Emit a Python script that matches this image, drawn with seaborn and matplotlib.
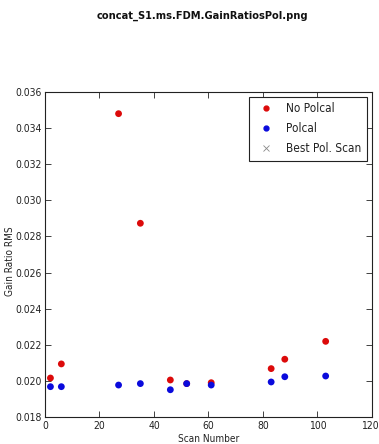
import matplotlib
matplotlib.use("Agg")
import matplotlib.pyplot as plt
import matplotlib.transforms as mtransforms
from matplotlib.lines import Line2D
import seaborn as sns
import pandas as pd

scans = [2, 6, 27, 35, 46, 52, 61, 83, 88, 103]
no_polcal = [0.02016, 0.02094, 0.0348, 0.02873, 0.02005, 0.01985, 0.0199, 0.02068, 0.02120, 0.02219]
polcal = [0.01968, 0.01968, 0.01977, 0.01985, 0.01951, 0.01985, 0.01977, 0.01994, 0.02023, 0.02027]

x_ticks = [0, 20, 40, 60, 80, 100, 120]
y_ticks = [0.018, 0.020, 0.022, 0.024, 0.026, 0.028, 0.030, 0.032, 0.034, 0.036]

sns.set_style("ticks")
plt.rcParams["font.family"] = ["DejaVu Sans"]
plt.rcParams["font.stretch"] = "condensed"

df = pd.concat([
    pd.DataFrame({"scan": scans, "rms": no_polcal, "series": "No Polcal"}),
    pd.DataFrame({"scan": scans, "rms": polcal, "series": "Polcal"}),
])

RED = "#dc0a0a"
BLUE = "#0a0adc"

fig = plt.figure(figsize=(3.79, 4.44), dpi=100)
ax = fig.add_axes([0.1187, 0.0608, 0.8628, 0.732])

sns.scatterplot(data=df, x="scan", y="rms", hue="series",
                palette={"No Polcal": RED, "Polcal": BLUE},
                s=24, linewidth=0, ax=ax, legend=False)

ax.set_xlim(0, 120)
ax.set_ylim(0.018, 0.036)
ax.set_xticks(x_ticks)
ax.set_yticks(y_ticks)
ax.set_xticklabels([str(t) for t in x_ticks])
ax.set_yticklabels([f"{t:.3f}" for t in y_ticks])
ax.tick_params(direction="in", top=True, right=True, labelsize=7.5, length=4,
               width=0.6, pad=3, colors="#222222", labelcolor="#222222")
ax.tick_params(axis="y", pad=2)
for sp in ax.spines.values():
    sp.set_linewidth(0.8)
    sp.set_color("#222222")

# keep the last x tick label inside the figure edge
last = ax.get_xticklabels()[-1]
last.set_horizontalalignment("right")
last.set_transform(last.get_transform() +
                   mtransforms.ScaledTranslation(6.5 / 100, 0, fig.dpi_scale_trans))

ax.set_xlabel("Scan Number", fontsize=7.2, labelpad=2, color="#222222")
ax.set_ylabel("Gain Ratio RMS", fontsize=7.2, color="#222222")
ax.yaxis.set_label_coords(-0.093, 0.48)

handles = [
    Line2D([], [], marker="o", color="none", markerfacecolor=RED,
           markeredgecolor=RED, markersize=3.5, label="No Polcal"),
    Line2D([], [], marker="o", color="none", markerfacecolor=BLUE,
           markeredgecolor=BLUE, markersize=3.5, label="Polcal"),
    Line2D([], [], marker="x", color="none", markeredgecolor="#888888",
           markersize=4, markeredgewidth=0.6, label="Best Pol. Scan"),
]
leg = ax.legend(handles=handles, loc="upper right", fontsize=8.5, frameon=True,
                fancybox=False, edgecolor="#222222", framealpha=1,
                handletextpad=0.7, handlelength=2.0, borderpad=0.45,
                labelspacing=0.6, borderaxespad=0,
                bbox_to_anchor=(1 - 5 / 327, 1 - 5 / 325))
leg.get_frame().set_linewidth(0.8)
for t in leg.get_texts():
    t.set_color("#222222")

fig.text(0.535, 0.964, "concat_S1.ms.FDM.GainRatiosPol.png", ha="center", va="center",
         fontsize=7.9, fontweight="bold", color="#111111")

fig.savefig("out.png", dpi=100)
